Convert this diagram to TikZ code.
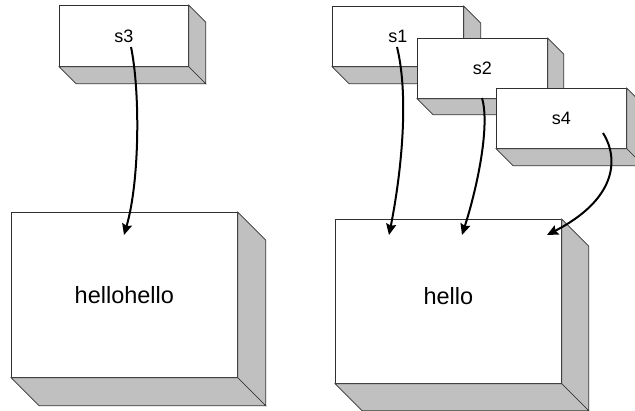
\documentclass[tikz,border=0pt]{standalone}
\usepackage{fontspec}
\setmainfont{Liberation Sans}
\usetikzlibrary{arrows.meta,calc}
\definecolor{sidegray}{HTML}{C0C0C0}
\definecolor{edgegray}{HTML}{303030}
\tikzset{
  front/.style={draw=edgegray, fill=white, line width=0.7pt, rectangle, inner sep=0pt, anchor=north west},
  side/.style={draw=edgegray, fill=sidegray, line width=0.7pt, line join=miter},
  smalltext/.style={font=\fontsize{18}{20}\selectfont},
  bigtext/.style={font=\fontsize{23.5}{26}\selectfont},
  ptr/.style={line width=2pt, -{Stealth[length=11pt,width=10pt,inset=1.5pt]}},
}
\newcommand{\depthfaces}[2]{%
  \draw[side] (#1.north east) -- ++(#2,#2) -- ($(#1.south east)+(#2,#2)$) -- (#1.south east) -- cycle;
  \draw[side] (#1.south west) -- (#1.south east) -- ++(#2,#2) -- ($(#1.south west)+(#2,#2)$) -- cycle;
}
\begin{document}
\begin{tikzpicture}[x=1pt,y=-1pt]
\useasboundingbox (0,0) rectangle (635,410);
% left group
\node[front, smalltext, minimum width=129pt, minimum height=61pt] (s3) at (59,5) {s3};
\depthfaces{s3}{17}
\node[front, bigtext, minimum width=226pt, minimum height=165pt] (hh) at (11,212) {hellohello};
\depthfaces{hh}{28}
% right group
\node[front, smalltext, minimum width=131pt, minimum height=60pt] (s1) at (332,6) {s1};
\depthfaces{s1}{17}
\node[front, smalltext, minimum width=130pt, minimum height=60pt] (s2) at (417,38) {s2};
\depthfaces{s2}{16}
\node[front, smalltext, minimum width=130pt, minimum height=60pt] (s4) at (496,88) {s4};
\depthfaces{s4}{17}
\node[front, bigtext, minimum width=226pt, minimum height=164pt] (h) at (335,219) {\raisebox{11pt}{hello}};
\depthfaces{h}{27}
% connectors
\coordinate (s3a) at (131,47);  \coordinate (hha) at (124,235);
\coordinate (s1a) at (397,47);  \coordinate (ha1) at (389,235);
\coordinate (s2a) at (482,98);  \coordinate (ha2) at (462,235);
\coordinate (s4a) at (603,133); \coordinate (ha4) at (547,235);
\draw[ptr] (s3a) .. controls (140,90) and (140,180) .. (hha);
\draw[ptr] (s1a) .. controls (410,100) and (400,180) .. (ha1);
\draw[ptr] (s2a) .. controls (490,125) and (478,185) .. (ha2);
\draw[ptr] (s4a) .. controls (620,160) and (615,200) .. (ha4);
\end{tikzpicture}
\end{document}
